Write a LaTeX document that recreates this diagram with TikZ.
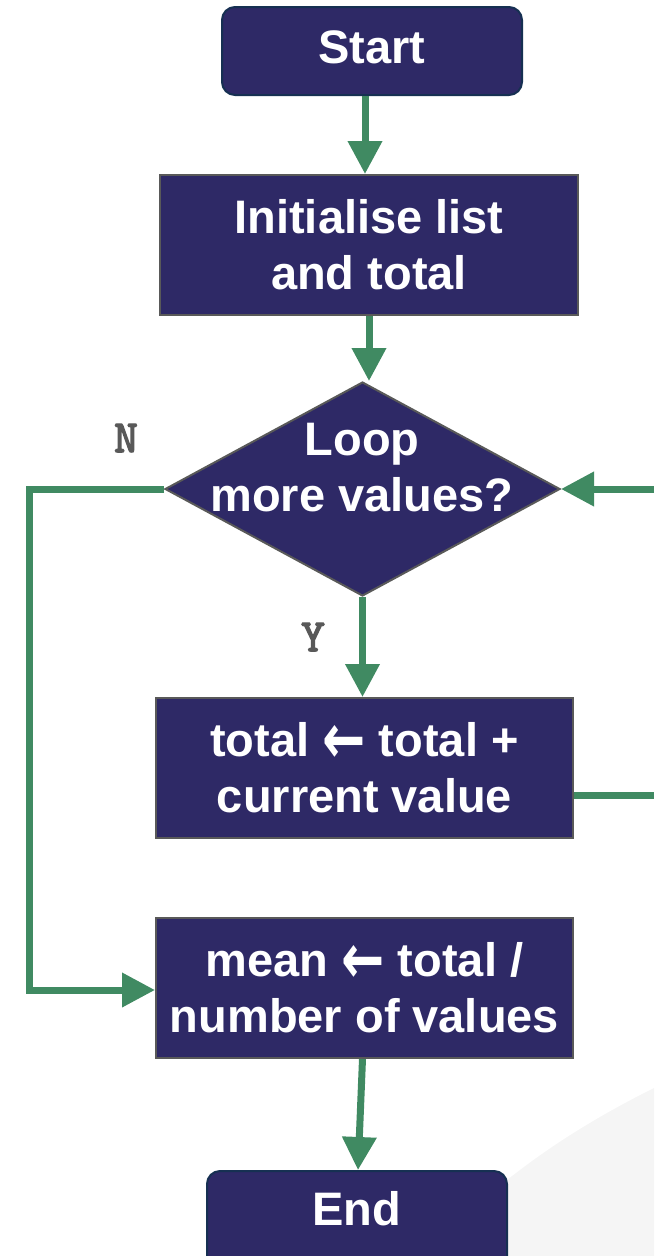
\documentclass[tikz,border=0pt]{standalone}
\usepackage{fontspec}
\setmainfont{Liberation Sans}
\newfontfamily\ynfont[FakeBold=3]{Latin Modern Mono}
\usetikzlibrary{arrows.meta,shapes.geometric}
\definecolor{navy}{RGB}{46,41,102}
\definecolor{flowgreen}{RGB}{64,138,98}
\definecolor{boxgray}{RGB}{89,89,89}
\definecolor{termedge}{RGB}{22,48,82}
\definecolor{bggray}{RGB}{245,245,245}
\newcommand{\larr}{{\fontspec{DejaVu Sans}\bfseries\raisebox{-7pt}{\scalebox{1.1}[1.5]{←}}}}
\tikzset{
  txt/.style={text=white,font=\bfseries\fontsize{47}{56}\selectfont,align=center},
  termbox/.style={txt,draw=termedge,line width=2pt,fill=navy,rounded corners=13pt,minimum width=300pt,inner sep=0pt},
  procbox/.style={txt,draw=boxgray,line width=2pt,fill=navy,inner sep=0pt},
  decbox/.style={diamond,draw=boxgray,line width=2pt,fill=navy,inner sep=0pt,minimum width=395pt,minimum height=214pt},
  yn/.style={text=boxgray,font=\ynfont\fontsize{46}{46}\selectfont,inner sep=0pt},
  flow/.style={draw=flowgreen,line width=7pt},
  arr/.style={flow,-{Triangle[length=33pt,width=33pt]}}
}
\begin{document}
\begin{tikzpicture}[x=1pt,y=-1pt]
\useasboundingbox (0,0) rectangle (654,1256);
\clip (0,0) rectangle (654,1256);
\fill[bggray] (654,1088) .. controls (590,1120) and (545,1150) .. (507,1180) -- (400,1256) -- (654,1256) -- cycle;

\node[termbox,minimum height=88pt] (start) at (372,51) {\raisebox{8pt}{Start}};
\node[procbox,minimum width=418pt,minimum height=140pt] (init) at (369,245) {Initialise list\\and total};
\node[decbox] (dec) at (362.5,489) {};
\node[txt,inner sep=0pt] (dectext) at (362,468) {Loop\\more values?};
\node[procbox,minimum width=417pt,minimum height=140pt] (proc) at (364.5,768) {total \larr{} total +\\current value};
\node[procbox,minimum width=417pt,minimum height=140pt] (mean) at (364.5,988) {mean \larr{} total /\\number of values};
\node[termbox,minimum height=100pt] (endn) at (357,1221) {\raisebox{26pt}{End}};

\node[yn] (nlab) at (126,438) {N};
\node[yn] (ylab) at (313,637) {Y};

\coordinate (l1) at (29,488);
\coordinate (l2) at (29,990);
\coordinate (r1) at (654,795);

\draw[arr] ([xshift=-7pt]start.south) -- ([xshift=-4pt]init.north);
\draw[arr] (init.south) -- (init.south |- dec.north);
\draw[arr] (dec.south) -- (dec.south |- proc.north);
\draw[flow] (proc.east |- r1) -- (r1);
\draw[arr] (dec.east -| r1) -- (dec.east);
\draw[arr,line join=miter] (dec.west) -- (dec.west -| l1) -- (l2) -- (mean.west |- l2);
\draw[arr] ([xshift=-2pt]mean.south) -- ([xshift=1pt]endn.north);
\end{tikzpicture}
\end{document}
